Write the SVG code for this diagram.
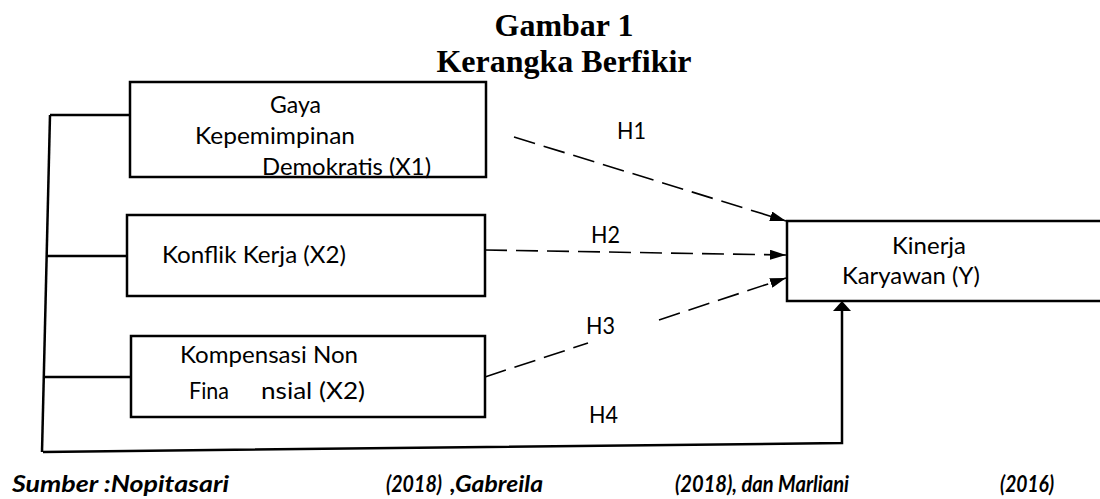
<svg xmlns="http://www.w3.org/2000/svg" width="1100" height="499" viewBox="0 0 1100 499">
<style>
.box{fill:#fff;stroke:#000;stroke-width:2.5}
.ln{fill:none;stroke:#000;stroke-width:2.5}
.dash{fill:none;stroke:#000;stroke-width:1.6;stroke-dasharray:22 9}
.t{font-family:Lato,"Liberation Sans",sans-serif;font-size:23px;fill:#000}
.title{font-family:"Liberation Serif",serif;font-size:32px;font-weight:bold;fill:#000;text-anchor:middle}
.src{font-family:Lato,"Liberation Sans",sans-serif;font-size:22px;font-weight:bold;font-style:italic;fill:#000}
</style>
<defs>
<marker id="ah" viewBox="0 0 16 10" refX="16" refY="5" markerWidth="16" markerHeight="10" markerUnits="userSpaceOnUse" orient="auto">
<path d="M0,0 L16,5 L0,10 Z" fill="#000"/>
</marker>
</defs>
<rect width="1100" height="499" fill="#fff"/>
<g id="title">
<text class="title" x="564" y="36">Gambar 1</text>
<text class="title" x="564" y="72">Kerangka Berfikir</text>
</g>
<g id="connectors">
<path class="ln" d="M50,115 L42,452"/>
<path class="ln" d="M50,115 L130,115"/>
<path class="ln" d="M47,256 L127,256"/>
<path class="ln" d="M44,377 L131,377"/>
<path class="ln" d="M43,452 L842,443 L842,310"/>
<path d="M842,301 L851,311 L833,311 Z" fill="#000"/>
<path class="dash" d="M514,137 L786,221" marker-end="url(#ah)"/>
<path class="dash" d="M485,250 L786,255" marker-end="url(#ah)"/>
<path class="dash" d="M485,377 L588,343"/>
<path class="dash" d="M659,320 L786,278" marker-end="url(#ah)"/>
<text class="t" x="617" y="139" textLength="29" lengthAdjust="spacingAndGlyphs">H1</text>
<text class="t" x="591" y="243" textLength="29" lengthAdjust="spacingAndGlyphs">H2</text>
<text class="t" x="586" y="334" textLength="29" lengthAdjust="spacingAndGlyphs">H3</text>
<text class="t" x="589" y="423" textLength="29" lengthAdjust="spacingAndGlyphs">H4</text>
</g>
<g id="x1">
<rect class="box" x="130" y="82" width="356" height="95"/>
<text class="t" x="270" y="113" textLength="51" lengthAdjust="spacingAndGlyphs">Gaya</text>
<text class="t" x="195" y="144" textLength="160" lengthAdjust="spacingAndGlyphs">Kepemimpinan</text>
<text class="t" x="262" y="175" textLength="169" lengthAdjust="spacingAndGlyphs">Demokratis (X1)</text>
<rect x="131" y="176" width="354" height="1.2" fill="#000"/>
</g>
<g id="x2">
<rect class="box" x="127" y="215" width="358" height="81"/>
<text class="t" x="162" y="263" textLength="184" lengthAdjust="spacingAndGlyphs">Konflik Kerja (X2)</text>
</g>
<g id="x3">
<rect class="box" x="131" y="336" width="354" height="81"/>
<text class="t" x="180" y="363" textLength="178" lengthAdjust="spacingAndGlyphs">Kompensasi Non</text>
<text class="t" x="189" y="399" textLength="40" lengthAdjust="spacingAndGlyphs">Fina</text>
<text class="t" x="261" y="399" textLength="104" lengthAdjust="spacingAndGlyphs">nsial (X2)</text>
</g>
<g id="y">
<rect class="box" x="787" y="221" width="320" height="80"/>
<text class="t" x="892" y="254" textLength="74" lengthAdjust="spacingAndGlyphs">Kinerja</text>
<text class="t" x="842" y="284" textLength="138" lengthAdjust="spacingAndGlyphs">Karyawan (Y)</text>
</g>
<g id="source">
<text class="src" x="12" y="492" textLength="217" lengthAdjust="spacingAndGlyphs">Sumber :Nopitasari</text>
<text class="src" x="386" y="492" textLength="56" lengthAdjust="spacingAndGlyphs">(2018)</text>
<text class="src" x="450" y="492" textLength="93" lengthAdjust="spacingAndGlyphs">,Gabreila</text>
<text class="src" x="675" y="492" textLength="174" lengthAdjust="spacingAndGlyphs">(2018), dan Marliani</text>
<text class="src" x="1000" y="492" textLength="54" lengthAdjust="spacingAndGlyphs">(2016)</text>
</g>
</svg>
